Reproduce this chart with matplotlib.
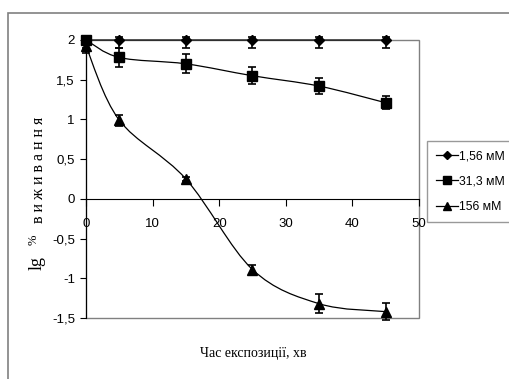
import numpy as np
import matplotlib.pyplot as plt
from matplotlib.path import Path
from matplotlib.patches import PathPatch, Rectangle
from matplotlib.lines import Line2D

# дані: час експозиції (хв) та lg % виживання
time_min = [0, 5, 15, 25, 35, 45]

surv_156 = [2.0, 2.0, 2.0, 2.0, 2.0, 2.0]
err_156_lo = [0.1, 0.1, 0.1, 0.1, 0.1, 0.1]
err_156_hi = [0.04, 0.04, 0.04, 0.04, 0.04, 0.04]

surv_313 = [2.0, 1.78, 1.70, 1.55, 1.42, 1.21]
err_313 = [0.03, 0.12, 0.12, 0.11, 0.10, 0.08]

surv_156m = [1.92, 0.99, 0.25, -0.89, -1.32, -1.42]
err_156m = [0.08, 0.07, 0.03, 0.06, 0.12, 0.11]

legend_labels = ['1,56 мМ', '31,3 мМ', '156 мМ']
xticks = [0, 10, 20, 30, 40, 50]
yticks = [2, 1.5, 1, 0.5, 0, -0.5, -1, -1.5]
ytick_labels = ['2', '1,5', '1', '0,5', '0', '-0,5', '-1', '-1,5']

W, H = 510, 379


def smooth_path(x, y):
    """Згладжена крива (як у Excel) через точки даних"""
    pts = np.column_stack([x, y]).astype(float)
    ext = np.vstack([pts[0], pts, pts[-1]])
    verts = [pts[0]]
    codes = [Path.MOVETO]
    for i in range(len(pts) - 1):
        p0, p1, p2, p3 = ext[i], ext[i + 1], ext[i + 2], ext[i + 3]
        c1 = p1 + (p2 - p0) / 6
        c2 = p2 - (p3 - p1) / 6
        verts += [c1, c2, p2]
        codes += [Path.CURVE4] * 3
    return Path(verts, codes)


fig = plt.figure(figsize=(W / 100, H / 100), dpi=100)
fig.patches.append(Rectangle((8 / W, -0.1), 1.2, 1 - 13 / H + 0.1, transform=fig.transFigure,
                             fill=False, edgecolor='#808080', lw=1.2))

ax = fig.add_axes([86 / W, 1 - 318 / H, (419 - 86) / W, (318 - 40) / H])
ax.set_xlim(0, 50)
ax.set_ylim(-1.5, 2)

# рамка області побудови
for s in ['top', 'right']:
    ax.spines[s].set_visible(False)
ax.add_patch(Rectangle((0, 0), 1, 1, transform=ax.transAxes, fill=False,
                       edgecolor='#808080', lw=1.0, clip_on=False, zorder=0))
ax.spines['bottom'].set_position(('data', 0))
ax.spines['bottom'].set_linewidth(0.8)
ax.spines['left'].set_linewidth(0.8)

ax.set_xticks(xticks)
ax.set_xticklabels([str(t) for t in xticks])
ax.set_yticks(yticks)
ax.set_yticklabels(ytick_labels)
ax.tick_params(axis='x', direction='out', length=5, width=0.8, pad=9, labelsize=9.5)
ax.tick_params(axis='y', direction='out', length=4, width=0.8, pad=4, labelsize=9.5)
for lab in ax.get_xticklabels() + ax.get_yticklabels():
    lab.set_family('Liberation Sans')

series = [
    (surv_156, [err_156_lo, err_156_hi], 'D', 5),
    (surv_313, err_313, 's', 7),
    (surv_156m, err_156m, '^', 7),
]
for yv, err, mk, ms in series:
    ax.add_patch(PathPatch(smooth_path(time_min, yv), fill=False, edgecolor='black',
                           lw=0.9, clip_on=False, zorder=2))
    ax.errorbar(time_min, yv, yerr=err, fmt=mk, color='black', ms=ms, ecolor='black',
                elinewidth=1.2, capsize=3, capthick=1.2, clip_on=False, zorder=3)

# підписи осей
fig.text(253 / W, 1 - 353 / H, 'Час експозиції, хв', ha='center', va='center',
         family='Liberation Serif', fontsize=10)
fig.text(37 / W, 1 - 263 / H, 'lg', ha='center', va='center', rotation=90,
         family='Liberation Serif', fontsize=13)
fig.text(34 / W, 1 - 240 / H, '%', ha='center', va='center', rotation=90,
         family='Liberation Serif', fontsize=9)
fig.text(39 / W, 1 - 170 / H, 'в и ж и в а н н я', ha='center', va='center', rotation=90,
         family='Liberation Serif', fontsize=11.5)

# легенда
handles = [Line2D([], [], color='black', lw=0.9, marker=mk, ms=ms - 1)
           for _, _, mk, ms in series]
leg = fig.legend(handles, legend_labels, loc='upper left',
                 bbox_to_anchor=(427 / W, 1 - 141 / H), frameon=True, fancybox=False,
                 edgecolor='#808080', handlelength=1.8, handletextpad=0.1,
                 labelspacing=1.1, borderpad=0.75, borderaxespad=0,
                 prop={'family': 'Liberation Sans', 'size': 8.8})
leg.get_frame().set_linewidth(1.0)

fig.savefig('out.png', dpi=100)
